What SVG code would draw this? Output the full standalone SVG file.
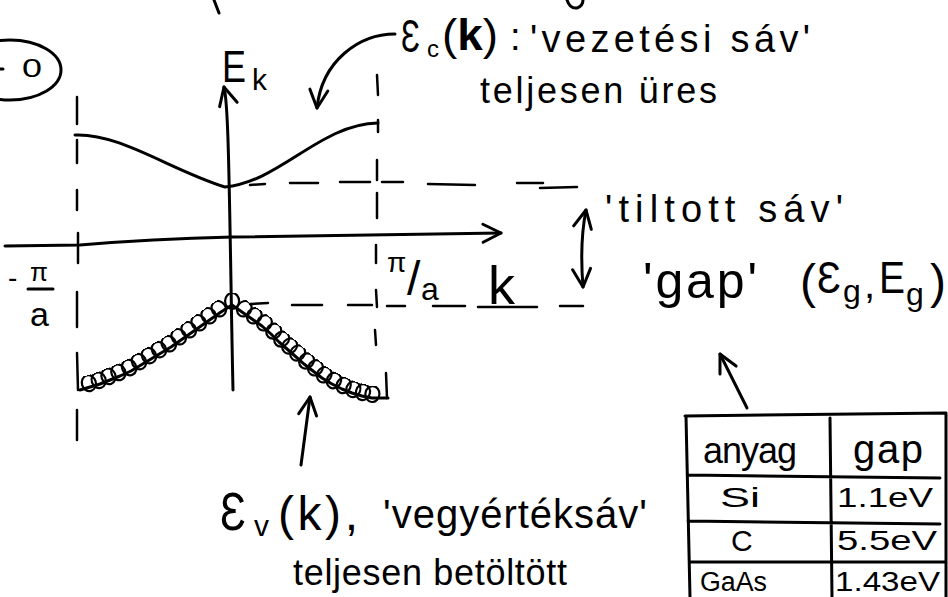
<svg xmlns="http://www.w3.org/2000/svg" width="948" height="597" viewBox="0 0 948 597">
<style>
text{font-family:"Liberation Sans","DejaVu Sans",sans-serif;fill:#000}
.ln{fill:none;stroke:#000;stroke-width:3;stroke-linecap:round;stroke-linejoin:round}
.dl{fill:none;stroke:#000;stroke-width:2.5;stroke-linecap:round}
.bd{font-weight:bold}
</style>
<defs>
<marker id="ah" viewBox="0 0 24 24" refX="21" refY="12" markerWidth="24" markerHeight="24" markerUnits="userSpaceOnUse" orient="auto-start-reverse">
<path d="M3,3 L21,12 L3,21" fill="none" stroke="#000" stroke-width="3" stroke-linecap="round" stroke-linejoin="round"/>
</marker>
<marker id="loop" viewBox="0 0 24 24" refX="12" refY="12" markerWidth="24" markerHeight="24" markerUnits="userSpaceOnUse" orient="auto">
<ellipse cx="12" cy="8" rx="7" ry="8" fill="none" stroke="#000" stroke-width="2.2"/>
</marker>
</defs>

<g id="fragments">
<path class="ln" d="M214,0 L219,13"/>
<path class="ln" d="M567,0 Q570,9 577,8 Q583,6 583,0"/>
<path class="ln" d="M0,69 L3,69"/>
</g>

<g id="eq-zero">
<ellipse cx="10" cy="70" rx="51" ry="30" class="ln"/>
<text x="22" y="77" font-size="26" textLength="20" lengthAdjust="spacingAndGlyphs">0</text>
</g>

<g id="connectors">
<path class="ln" d="M233,390 C231,300 230,200 228,140 C227,110 226,95 224,87" marker-end="url(#ah)"/>
<path class="ln" d="M5,246 L80,245 Q150,239 233,237 L501,233" marker-end="url(#ah)"/>
<path class="dl" d="M77,97 L77,124 M77,140 L77,163 M77,190 L77,210 M78,233 L78,263 M77,292 L77,327 M77,353 L78,390 M77,410 L77,440"/>
<path class="dl" d="M377,75 L378,95 M378,120 L378,132 M377,160 L377,180 M377,193 L377,218 M376,245 L376,263 M376,290 L377,307 M375,330 L376,345 M386,373 L387,398"/>
<path class="dl" d="M250,185 L265,184 M290,183 L318,183 M340,182 L370,182 M382,182 L403,182 M428,184 L475,185 M517,183 L543,183 M540,188 L577,187"/>
<path class="dl" d="M250,304 L268,303 M292,305 L322,305 M348,305 L372,305 M387,306 L405,306 M433,306 L465,306 M478,307 L537,307 M560,306 L583,306"/>
<path class="ln" d="M395,34 C360,34 322,60 317,108" marker-end="url(#ah)"/>
<path class="ln" d="M301,465 L310,397" marker-end="url(#ah)"/>
<path class="ln" d="M747,408 L720,354" marker-end="url(#ah)"/>
<path class="ln" d="M586,210 C581,235 581,262 583,287" marker-start="url(#ah)" marker-end="url(#ah)"/>
</g>

<g id="conduction-band">
<path class="ln" d="M75,135 C120,133 170,170 225,187 C280,182 320,124 378,123"/>
</g>

<g id="valence-band">
<polyline class="ln" marker-mid="url(#loop)" points="80,390 90,387 100,384 110,380 120,376 131,371 141,365 151,359 161,353 171,347 181,340 191,333 201,326 211,319 221,312 232,305 242,312 252,319 262,326 271,334 279,342 287,349 295,356 304,364 313,371 322,378 332,384 342,389 352,393 362,396 372,398 388,398"/>
</g>

<g id="label-Ek">
<text x="222" y="82" font-size="44" textLength="24" lengthAdjust="spacingAndGlyphs">E</text>
<text x="252" y="90" font-size="30">k</text>
</g>

<g id="label-minus-pi-a">
<text x="8" y="287" font-size="28">-</text>
<text x="30" y="281" font-size="26">π</text>
<path class="ln" d="M28,289 L53,289"/>
<text x="30" y="326" font-size="34">a</text>
</g>

<g id="label-pi-a">
<text x="387" y="272" font-size="28">π</text>
<text x="407" y="295" font-size="48">/</text>
<text x="421" y="300" font-size="32">a</text>
</g>

<g id="label-k">
<text x="488" y="304" font-size="54">k</text>
</g>

<g id="label-Ec">
<text x="401" y="52" font-size="46" textLength="19" lengthAdjust="spacingAndGlyphs">Ɛ</text>
<text x="427" y="57" font-size="24">c</text>
<text x="442" y="50" font-size="44" textLength="56" lengthAdjust="spacingAndGlyphs">(<tspan class="bd">k</tspan>)</text>
<text x="510" y="50" font-size="38">:</text>
<text x="530" y="52" font-size="38" textLength="280" lengthAdjust="spacing">'vezetési sáv'</text>
<text x="480" y="103" font-size="36" textLength="237" lengthAdjust="spacing">teljesen üres</text>
</g>

<g id="label-tiltott">
<text x="605" y="222" font-size="38" textLength="238" lengthAdjust="spacing">'tiltott sáv'</text>
</g>

<g id="label-gap">
<text x="643" y="298" font-size="50" textLength="114" lengthAdjust="spacing">'gap'</text>
<text x="800" y="298" font-size="48">(</text>
<text x="817" y="293" font-size="44" textLength="24" lengthAdjust="spacingAndGlyphs">Ɛ</text>
<text x="843" y="302" font-size="32">g</text>
<text x="864" y="298" font-size="40">,</text>
<text x="879" y="293" font-size="44" textLength="26" lengthAdjust="spacingAndGlyphs">E</text>
<text x="906" y="305" font-size="32">g</text>
<text x="930" y="298" font-size="48">)</text>
</g>

<g id="label-Ev">
<text x="220" y="530" font-size="54" textLength="26" lengthAdjust="spacingAndGlyphs">Ɛ</text>
<text x="254" y="536" font-size="30">v</text>
<text x="278" y="530" font-size="48" textLength="80" lengthAdjust="spacing">(k),</text>
<text x="383" y="528" font-size="40" textLength="264" lengthAdjust="spacing">'vegyértéksáv'</text>
<text x="293" y="585" font-size="36" textLength="274" lengthAdjust="spacing">teljesen betöltött</text>
</g>

<g id="table">
<path class="ln" d="M685,416 L946,413 L946,597 M686,416 L690,597 M830,418 L832,597 M688,475 L940,478 M688,521 L940,524 M690,562 L946,562"/>
<text x="703" y="463" font-size="36" textLength="94" lengthAdjust="spacing">anyag</text>
<text x="853" y="463" font-size="40" textLength="70" lengthAdjust="spacing">gap</text>
<text x="720" y="507" font-size="28" textLength="40" lengthAdjust="spacingAndGlyphs">Si</text>
<text x="837" y="507" font-size="27" textLength="96" lengthAdjust="spacingAndGlyphs">1.1eV</text>
<text x="731" y="551" font-size="30">C</text>
<text x="837" y="550" font-size="27" textLength="100" lengthAdjust="spacingAndGlyphs">5.5eV</text>
<text x="700" y="591" font-size="27" textLength="67" lengthAdjust="spacingAndGlyphs">GaAs</text>
<text x="835" y="591" font-size="27" textLength="105" lengthAdjust="spacingAndGlyphs">1.43eV</text>
</g>
</svg>
